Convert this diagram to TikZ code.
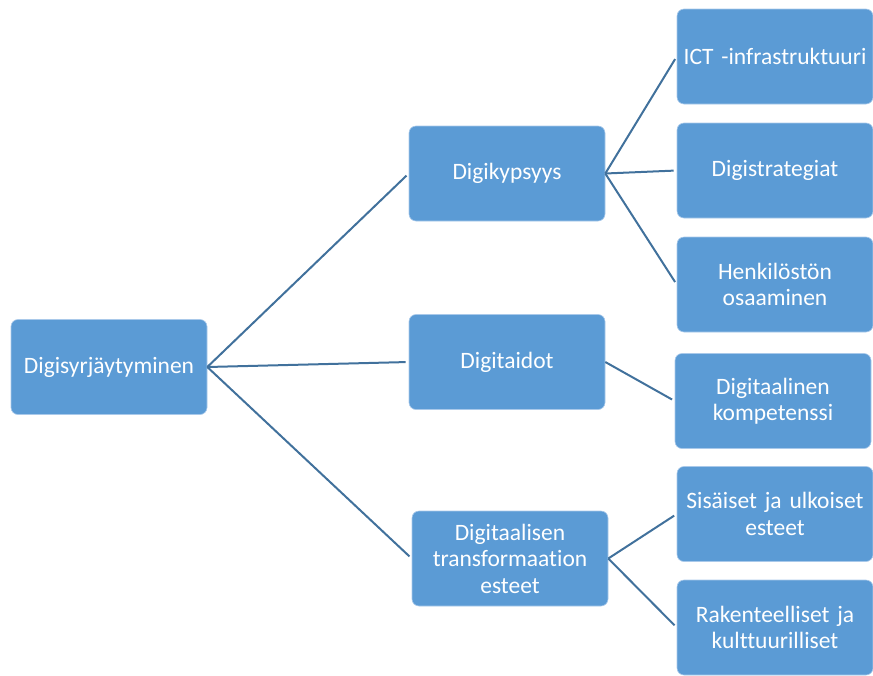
\documentclass[tikz,border=0pt]{standalone}
\usepackage{fontspec}
\setmainfont[Ligatures=CommonOff]{Carlito}
\definecolor{boxblue}{HTML}{5B9BD5}
\definecolor{boxedge}{HTML}{A9C9EA}
\definecolor{linkblue}{HTML}{41719C}
\begin{document}
\begin{tikzpicture}[x=1pt,y=-1pt,
  box/.style={fill=boxblue,draw=boxedge,line width=0.6pt,rounded corners=7pt,
    minimum width=196pt,minimum height=95pt,text width=194pt,align=center,
    text=white,inner sep=0pt,font=\fontsize{23.5}{26.5}\selectfont},
  link/.style={draw=linkblue,line width=2pt,shorten >=3pt}]
\useasboundingbox (0,0) rectangle (873,675);
\node[box] (root) at (109,367) {Digisyrjäytyminen};
\node[box] (d1) at (507,173.5) {Digikypsyys};
\node[box] (d2) at (507,362) {Digitaidot};
\node[box] (d3) at (510,558.5) {Digitaalisen\\transformaation\\esteet};
\node[box] (e1) at (775,56.5) {ICT -infrastruktuuri};
\node[box] (e2) at (775,170.5) {Digistrategiat};
\node[box] (e3) at (775,284.5) {Henkilöstön\\osaaminen};
\node[box] (e4) at (773,401) {Digitaalinen\\kompetenssi};
\node[box] (e5) at (775,514) {Sisäiset ja ulkoiset\\esteet};
\node[box] (e6) at (775,627.5) {Rakenteelliset ja\\kulttuurilliset};
\draw[link] (root.east) -- (d1.west);
\draw[link] (root.east) -- (d2.west);
\draw[link] (root.east) -- (d3.west);
\draw[link] (d1.east) -- (e1.west);
\draw[link] (d1.east) -- (e2.west);
\draw[link] (d1.east) -- (e3.west);
\draw[link] (d2.east) -- (e4.west);
\draw[link] (d3.east) -- (e5.west);
\draw[link] (d3.east) -- (e6.west);
\end{tikzpicture}
\end{document}
